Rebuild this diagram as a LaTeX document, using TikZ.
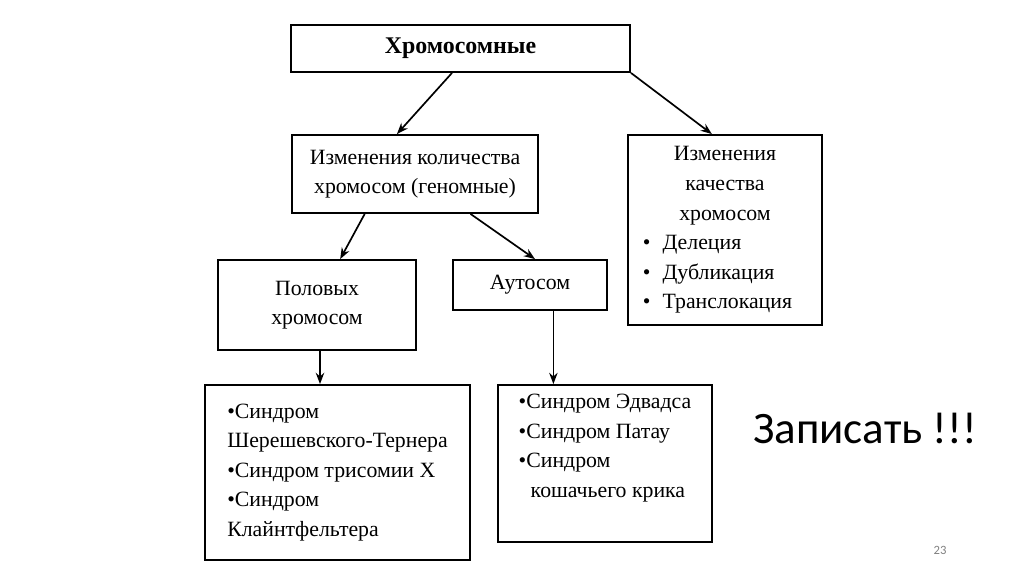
\documentclass[tikz,border=0pt]{standalone}
\usepackage{fontspec}
\setmainfont{Liberation Serif}
\newfontfamily\slidefont{Carlito}
\usetikzlibrary{arrows.meta, calc}

\begin{document}
\begin{tikzpicture}[x=0.025cm, y=-0.025cm,
    box/.style={draw, line width=1.3pt, inner sep=2pt, font=\fontsize{15.5}{21}\selectfont},
    link/.style={-{Stealth[length=8pt, width=6pt]}, line width=1.2pt}]
    \useasboundingbox (0,0) rectangle (1024,574);

    % top level
    \node[box, minimum width=8.475cm, minimum height=1.175cm,
          font=\fontsize{17}{21}\selectfont\bfseries] (chrom) at (460.5,48.5) {Хромосомные};

    % second level
    \node[box, align=center, minimum width=6.15cm, minimum height=1.95cm] (kol) at (415,174)
        {Изменения количества\\хромосом (геномные)};
    \node[box, align=center, minimum width=4.85cm, minimum height=4.75cm] (kach) at (725,230)
        {Изменения\\качества\\хромосом\\
         \makebox[4.1cm][l]{•\hspace{0.3cm}Делеция}\\
         \makebox[4.1cm][l]{•\hspace{0.3cm}Дубликация}\\
         \makebox[4.1cm][l]{•\hspace{0.3cm}Транслокация}};

    % third level
    \node[box, align=center, minimum width=4.95cm, minimum height=2.25cm] (pol) at (317,305)
        {Половых\\хромосом};
    \node[box, minimum width=3.85cm, minimum height=1.25cm] (auto) at (530,285) {Аутосом};

    % syndromes
    \node[box, align=left, minimum width=6.625cm, minimum height=4.375cm] (sexsyn) at (337.5,472.5)
        {•Синдром\\Шерешевского-Тернера\\•Синдром трисомии X\\•Синдром\\Клайнтфельтера};
    \node[box, align=left, minimum width=5.35cm, minimum height=3.925cm] (autosyn) at (605,463.5)
        {•Синдром Эдвадса\\•Синдром Патау\\•Синдром\\\hspace{0.3cm}кошачьего крика\\[4pt]};

    % arrows
    \draw[link] ($(chrom.south west)!0.475!(chrom.south east)$) -- ($(kol.north west)!0.427!(kol.north east)$);
    \draw[link] (chrom.south east) -- ($(kach.north west)!0.433!(kach.north east)$);
    \draw[link] ($(kol.south west)!0.297!(kol.south east)$) -- ($(pol.north west)!0.616!(pol.north east)$);
    \draw[link] ($(kol.south west)!0.724!(kol.south east)$) -- ($(auto.north west)!0.532!(auto.north east)$);
    \coordinate (polout) at ($(pol.south west)!0.515!(pol.south east)$);
    \draw[link] (polout) -- (polout |- sexsyn.north);
    \coordinate (autoout) at ($(auto.south west)!0.65!(auto.south east)$);
    \draw[link] (autoout) -- (autoout |- autosyn.north);

    % slide text
    \node[font=\slidefont\fontsize{32}{36}\selectfont] (note) at (865,428) {Записать !!!};
    \node[font=\slidefont\fontsize{9}{10}\selectfont, text=gray] (page) at (940,550) {23};
\end{tikzpicture}
\end{document}
